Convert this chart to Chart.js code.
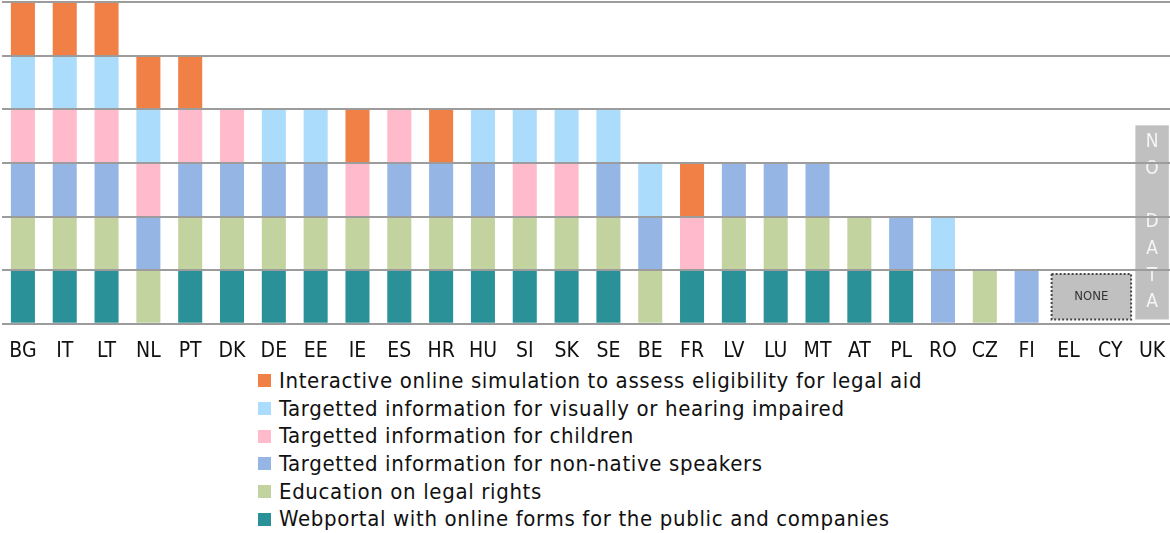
<!DOCTYPE html>
<html>
<head>
<meta charset="utf-8">
<script src="https://cdn.jsdelivr.net/npm/chart.js@4"></script>
<style>
  html, body { margin: 0; padding: 0; background: #fff; overflow: hidden; width: 1170px; height: 533px; }
  #wrap { position: absolute; left: 0; top: 0; width: 1173px; height: 364px; }
  #legend { position: absolute; left: 258px; top: 367px; font-family: "DejaVu Sans Condensed", "DejaVu Sans", sans-serif; font-size: 22px; letter-spacing: 0.65px; color: #111; }
  .row { height: 27.7px; line-height: 27.7px; white-space: nowrap; display: flex; align-items: center; }
  .box { width: 13px; height: 13px; margin-right: 8px; display: inline-block; flex: none; }
</style>
</head>
<body>
<div id="wrap"><canvas id="c"></canvas></div>
<div id="legend"></div>
<script>
const countries = ["BG","IT","LT","NL","PT","DK","DE","EE","IE","ES","HR","HU","SI","SK","SE","BE","FR","LV","LU","MT","AT","PL","RO","CZ","FI","EL","CY","UK"];

const webportal   = [1,1,1,0,1,1,1,1,1,1,1,1,1,1,1,0,1,1,1,1,1,1,0,0,0,0,0,0];
const education   = [1,1,1,1,1,1,1,1,1,1,1,1,1,1,1,1,0,1,1,1,1,0,0,1,0,0,0,0];
const nonNative   = [1,1,1,1,1,1,1,1,0,1,1,1,0,0,1,1,0,1,1,1,0,1,1,0,1,0,0,0];
const children    = [1,1,1,1,1,1,0,0,1,1,0,0,1,1,0,0,1,0,0,0,0,0,0,0,0,0,0,0];
const impaired    = [1,1,1,1,0,0,1,1,0,0,0,1,1,1,1,1,0,0,0,0,0,0,1,0,0,0,0,0];
const interactive = [1,1,1,1,1,0,0,0,1,0,1,0,0,0,0,0,1,0,0,0,0,0,0,0,0,0,0,0];

const seriesNames = [
  "Webportal with online forms for the public and companies",
  "Education on legal rights",
  "Targetted information for non-native speakers",
  "Targetted information for children",
  "Targetted information for visually or hearing impaired",
  "Interactive online simulation to assess eligibility for legal aid"
];
const seriesValues = [webportal, education, nonNative, children, impaired, interactive];
const seriesColors = ["#2B9198", "#C3D39F", "#95B6E5", "#FFBBCC", "#ABDCFC", "#F08046"];

const yTicks = [0,1,2,3,4,5,6];
const noneCountries = ["EL","CY"];
const noDataCountry = "UK";
const noDataLabel = "NO DATA";
const noneLabel = "NONE";

const FONT = '"DejaVu Sans Condensed", "DejaVu Sans", sans-serif';

const annot = {
  id: 'annot',
  afterDatasetsDraw(chart) {
    const ctx = chart.ctx, x = chart.scales.x, y = chart.scales.y;
    const cw = x.getPixelForValue(1) - x.getPixelForValue(0);
    // NONE box
    const a = x.getPixelForValue(countries.indexOf(noneCountries[0]));
    const b = x.getPixelForValue(countries.indexOf(noneCountries[1]));
    const mid = (a + b) / 2 + 2;
    const bw = cw * 1.9;
    const top = y.getPixelForValue(0.93), bot = y.getPixelForValue(0.08);
    ctx.save();
    ctx.fillStyle = '#C0C0C0';
    ctx.fillRect(mid - bw/2, top, bw, bot - top);
    ctx.setLineDash([2, 2]);
    ctx.strokeStyle = '#444';
    ctx.lineWidth = 2;
    ctx.strokeRect(mid - bw/2, top, bw, bot - top);
    ctx.setLineDash([]);
    ctx.fillStyle = '#333';
    ctx.font = '13px ' + FONT;
    ctx.textAlign = 'center';
    ctx.textBaseline = 'middle';
    ctx.fillText(noneLabel, mid, (top + bot) / 2);
    // NO DATA bar
    const u = x.getPixelForValue(countries.indexOf(noDataCountry));
    const nw = cw * 0.8;
    const nt = y.getPixelForValue(3.7), nb = y.getPixelForValue(0.08);
    ctx.fillStyle = '#C0C0C0';
    ctx.fillRect(u - nw/2, nt, nw, nb - nt);
    ctx.fillStyle = '#F5F5F5';
    ctx.font = '19px ' + FONT;
    const chars = noDataLabel.split('');
    const step = (nb - nt - 34) / (chars.length - 1);
    chars.forEach((ch, i) => {
      if (ch !== ' ') ctx.fillText(ch, u, nt + 17 + step * i);
    });
    ctx.restore();
  }
};

const chart = new Chart(document.getElementById('c'), {
  type: 'bar',
  data: {
    labels: countries,
    datasets: seriesNames.map((n, i) => ({
      label: n,
      data: seriesValues[i],
      backgroundColor: seriesColors[i],
      borderWidth: 0,
      categoryPercentage: 1,
      barPercentage: 0.575
    }))
  },
  options: {
    responsive: true,
    maintainAspectRatio: false,
    animation: false,
    layout: { padding: { left: 2, right: 0, top: 2, bottom: 0 } },
    plugins: { legend: { display: false }, tooltip: { enabled: false } },
    scales: {
      x: {
        stacked: true,
        grid: { display: false, drawTicks: true, tickLength: 15 },
        border: { display: false },
        ticks: { color: '#111', font: { family: FONT, size: 21 }, padding: 0, maxRotation: 0, autoSkip: false }
      },
      y: {
        stacked: true,
        min: 0, max: 6,
        afterBuildTicks(scale) { scale.ticks = yTicks.map(v => ({ value: v })); },
        ticks: { display: false },
        border: { display: false },
        grid: { color: '#9C9C9C', lineWidth: 2, z: 1, drawTicks: false }
      }
    }
  },
  plugins: [annot]
});

const leg = document.getElementById('legend');
for (let i = seriesNames.length - 1; i >= 0; i--) {
  const r = document.createElement('div');
  r.className = 'row';
  const bx = document.createElement('span');
  bx.className = 'box';
  bx.style.background = seriesColors[i];
  r.appendChild(bx);
  r.appendChild(document.createTextNode(seriesNames[i]));
  leg.appendChild(r);
}
</script>
</body>
</html>
